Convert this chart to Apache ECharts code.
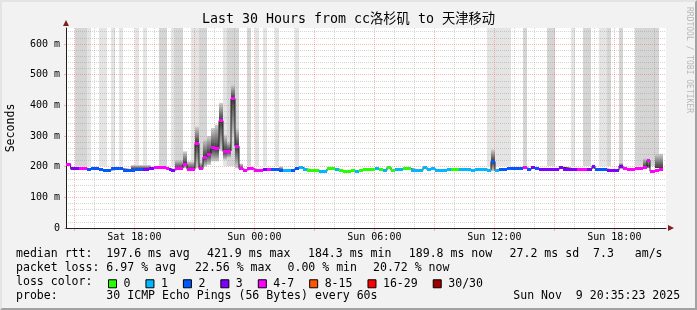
<!DOCTYPE html>
<html><head><meta charset="utf-8">
<script src="https://cdn.jsdelivr.net/npm/echarts@6/dist/echarts.min.js"></script>
<style>html,body{margin:0;padding:0;background:#f2f2f2}#c{width:697px;height:310px}</style>
</head><body><div id="c"></div>
<script>
// x values: minutes since Sat 14:35 (the 30 hour window ends Sun 20:35)
const rttStart = [0,14,39,63,75,99,111,135,171,207,231,249,264,300,309,315,327,351,363,387,399,411,423,435,447,459,471,483,495,507,519,531,543,563,591,603,615,639,651,675,687,699,711,723,759,783,807,819,831,855,867,879,891,927,939,951,963,975,987,1011,1035,1071,1083,1095,1107,1119,1143,1155,1179,1215,1227,1263,1275,1287,1299,1323,1371,1383,1395,1407,1419,1479,1491,1533,1563,1578,1587,1623,1659,1671,1683,1707,1731,1743,1752,1767,1779];
const rttEnd = 1791;
// median rtt in ms
const rttMedian = [208,193,195,192,193,191,189,193,189,190,192,194,198,195,192,189,195,208,191,276,193,231,241,261,258,350,249,251,422,267,193,189,193,188,191,191,192,189,188,188,195,197,192,188,185,193,192,188,185,188,185,189,191,194,191,188,198,188,191,193,188,198,190,193,187,189,191,191,191,187,192,188,217,187,192,194,196,192,198,193,192,198,192,192,192,202,192,188,202,194,190,195,198,220,185,188,192];
// loss class index per segment (0:"0",1:"1",2:"2",3:"3",4:"4-7",...)
const rttLoss = [4,3,4,2,2,2,2,2,2,2,3,3,4,4,3,3,4,4,4,4,4,4,4,4,4,4,4,4,4,4,4,4,4,4,3,4,2,2,1,2,2,1,1,0,1,0,1,0,0,0,1,0,0,1,0,1,0,0,1,0,1,1,1,1,1,1,1,0,1,1,1,1,2,1,2,2,4,2,3,2,3,3,3,4,3,3,2,3,3,4,4,4,4,4,4,4,4];

// smoke (spread of the individual pings) in ms
const smokeStart = [195,327,351,363,387,399,411,423,435,447,459,471,483,495,507,519,639,1275,1578,1659,1731,1767];
const smokeEnd   = [255,351,363,387,399,411,423,435,447,459,471,483,495,507,519,531,651,1287,1587,1671,1752,1791];
const smokeLow   = [192,193,195,191,195,192,200,205,217,217,250,222,228,293,195,193,189,185,192,192,196,195];
const smokeHigh  = [205,222,250,217,331,215,290,300,326,337,408,304,282,467,326,210,200,256,206,212,228,242];

// periods with lost pings (shade 0 = light, 1 = dark)
const lossBandStart = [27,63,99,135,159,207,231,279,315,327,375,399,471,483,543,567,591,627,687,1263,1371,1443,1515,1551,1599,1623,1659,1707];
const lossBandEnd   = [63,75,123,147,171,219,243,303,327,351,399,423,483,519,555,579,603,639,699,1335,1383,1467,1527,1575,1623,1635,1671,1779];
const lossBandShade = [1,0,0,0,0,0,0,1,0,1,0,1,0,1,1,0,0,0,0,0,1,1,0,1,0,1,1,1];

const lossClassNames  = ['0','1','2','3','4-7','8-15','16-29','30/30'];
const lossClassColors = ['#26ff00','#00b8ff','#0059ff','#7e00ff','#ff00ff','#ff5500','#ff0000','#a10000'];

const xTickMinutes = [205,565,925,1285,1645];
const xTickLabels  = ['Sat 18:00','Sun 00:00','Sun 06:00','Sun 12:00','Sun 18:00'];
const yTickValues  = [0,100,200,300,400,500,600];
const yTickLabels  = ['0','100 m','200 m','300 m','400 m','500 m','600 m'];

const statRows = [
  [['median rtt:  197.6 ms avg',16],['421.9 ms max',207],['184.3 ms min',308],['189.8 ms now',408.8],['27.2 ms sd  7.3   am/s',509.6]],
  [['packet loss: 6.97 % avg',16],['22.56 % max',195],['0.00 % min',287.5],['20.72 % now',373]],
  [['loss color:',16]],
  [['probe:       30 ICMP Echo Pings (56 Bytes) every 60s',16],['Sun Nov  9 20:35:23 2025',513.3]]
];
const titleText = 'Last 30 Hours from cc洛杉矶 to 天津移动';

// ---------------------------------------------------------------
const X_MAX = 1800, Y_MAX = 652, BAND_FLOOR = 202;
const MONO = '"DejaVu Sans Mono","Noto Sans CJK SC",monospace';
const xMajor = [], xMinor = [];
for (let m = 25; m < X_MAX; m += 60) { (((m - 25) / 60) % 3 === 0 ? xMajor : xMinor).push(m); }
const yMinor = [];
for (let v = 20; v < Y_MAX; v += 20) { if (v % 100) yMinor.push(v); }

function medianAt(t) {
  let k = 0;
  for (let i = 0; i < rttStart.length; i++) if (rttStart[i] <= t) k = i;
  return rttMedian[k];
}
const segEnd = i => (i + 1 < rttStart.length ? rttStart[i + 1] : rttEnd);

const bandData = lossBandStart.map((s, i) => [s, lossBandEnd[i], BAND_FLOOR, Y_MAX, lossBandShade[i]]);
const smokeData = smokeStart.map((s, i) => [s, smokeEnd[i], smokeLow[i], smokeHigh[i], medianAt(s)]);
const lineData = rttStart.map((t, i) => [t, rttMedian[i]]).concat([[rttEnd, rttMedian[rttMedian.length - 1]]]);

function renderBand(params, api) {
  const p0 = api.coord([api.value(0), api.value(3)]);
  const p1 = api.coord([api.value(1), api.value(2)]);
  return {type: 'rect', shape: {x: p0[0], y: p0[1], width: p1[0] - p0[0], height: p1[1] - p0[1]},
          style: {fill: api.value(4) ? '#d5d5d5' : '#e4e4e4'}};
}
function renderSmoke(params, api) {
  const lo = api.value(2), hi = api.value(3), med = api.value(4);
  const p0 = api.coord([api.value(0), hi]);
  const p1 = api.coord([api.value(1), lo]);
  let t = (hi - med) / (hi - lo); t = Math.max(0, Math.min(1, t));
  return {type: 'rect', shape: {x: p0[0], y: p0[1], width: p1[0] - p0[0], height: p1[1] - p0[1]},
          style: {fill: new echarts.graphic.LinearGradient(0, 0, 0, 1, [
            {offset: 0, color: '#d2d2d2'}, {offset: t, color: '#383838'}, {offset: 1, color: '#d2d2d2'}])}};
}
function renderMed(params, api) {
  const p0 = api.coord([api.value(0), api.value(2)]);
  const p1 = api.coord([api.value(1), api.value(2)]);
  return {type: 'rect', shape: {x: p0[0], y: Math.round(p0[1] - 1.5), width: p1[0] - p0[0], height: 3},
          style: {fill: api.visual('color')}};
}

const medSeries = lossClassNames.map((nm, k) => ({
  type: 'custom', name: nm, z: 6, silent: true,
  itemStyle: {color: lossClassColors[k]},
  renderItem: renderMed,
  encode: {x: [0, 1], y: 2},
  data: rttStart.map((t, i) => [t, segEnd(i), rttMedian[i], rttLoss[i]]).filter(d => d[3] === k)
}));

const majorGrid = 'rgba(240,80,80,0.4)';
const minorGrid = 'rgba(128,128,128,0.33)';
const txt = (x, y, s, extra) => ({type: 'text', x: x, y: y, silent: true,
  style: Object.assign({text: s, fontFamily: MONO, fontSize: 11.55, fill: '#000', align: 'left', verticalAlign: 'middle'}, extra || {})});
const rowY = [254.3, 268.3, 282.3, 295.8];
const graphics = [
  {type: 'polygon', silent: true, shape: {points: [[0,0],[697,0],[695,2],[2,2],[2,308],[0,310]]}, style: {fill: '#e4e4e4'}},
  {type: 'polygon', silent: true, shape: {points: [[697,0],[697,310],[0,310],[2,308],[695,308],[695,2]]}, style: {fill: '#a2a2a2'}},
  txt(11, 128, 'Seconds', {align: 'center'}),
  {type: 'text', x: 689, y: 60, rotation: -Math.PI / 2, silent: true,
   style: {text: 'RRDTOOL / TOBI OETIKER', fontFamily: MONO, fontSize: 8, fill: '#b8b8b8', align: 'center', verticalAlign: 'middle'}}
];
graphics[2].rotation = Math.PI / 2;
statRows.forEach((row, r) => row.forEach(([s, x]) => graphics.push(txt(x, rowY[r], s))));

const chart = echarts.init(document.getElementById('c'), null, {renderer: 'canvas', width: 697, height: 310});
chart.setOption({
  animation: false,
  backgroundColor: '#f2f2f2',
  title: {text: titleText, left: 'center', top: 13, padding: 0,
          textStyle: {fontFamily: MONO, fontSize: 13.3, fontWeight: 'normal', color: '#000', lineHeight: 14}},
  grid: {left: 66, top: 28, width: 600, height: 200, show: true, backgroundColor: '#ffffff', borderWidth: 0},
  legend: {data: lossClassNames, left: 108, top: 278, padding: 0, itemWidth: 8, itemHeight: 8, itemGap: 15,
           icon: 'rect', selectedMode: false, itemStyle: {borderColor: '#000', borderWidth: 1},
           textStyle: {fontFamily: MONO, fontSize: 11.55, color: '#000', padding: [0, 0, 0, 2]}},
  xAxis: [
    {type: 'value', min: 0, max: X_MAX, position: 'bottom', z: 5,
     axisLine: {show: true, onZero: false, lineStyle: {color: '#1f1f1f', width: 1}},
     axisTick: {show: false}, axisLabel: {show: false}, splitLine: {show: false}},
    {type: 'value', min: 0, max: X_MAX, position: 'bottom', z: 3,
     axisLine: {show: false, onZero: false},
     axisTick: {show: true, length: 2, customValues: xMinor, lineStyle: {color: minorGrid}},
     axisLabel: {show: false},
     splitLine: {show: true, lineStyle: {color: minorGrid, type: [1, 1], width: 1}}},
    {type: 'value', min: 0, max: X_MAX, position: 'bottom', z: 3,
     axisLine: {show: true, onZero: false, symbol: ['none', 'triangle'], symbolSize: [6, 6], symbolOffset: [0, 5],
                lineStyle: {color: '#801f1f', opacity: 0}},
     axisTick: {show: true, length: 3, customValues: xMajor, lineStyle: {color: majorGrid}},
     axisLabel: {customValues: xTickMinutes, margin: 4, fontFamily: MONO, fontSize: 10, color: '#000',
                 formatter: v => xTickLabels[xTickMinutes.indexOf(v)] || ''},
     splitLine: {show: true, lineStyle: {color: majorGrid, type: [1, 1], width: 1}}}
  ],
  yAxis: [
    {type: 'value', min: 0, max: Y_MAX, position: 'left', z: 5,
     axisLine: {show: true, onZero: false, lineStyle: {color: '#1f1f1f', width: 1}},
     axisTick: {show: true, length: 2, customValues: yTickValues, lineStyle: {color: majorGrid}},
     axisLabel: {customValues: yTickValues, margin: 6, fontFamily: MONO, fontSize: 10, color: '#000',
                 formatter: v => yTickLabels[yTickValues.indexOf(v)] || ''},
     splitLine: {show: true, lineStyle: {color: majorGrid, type: [1, 1], width: 1}}},
    {type: 'value', min: 0, max: Y_MAX, position: 'left', z: 3,
     axisLine: {show: true, onZero: false, symbol: ['none', 'triangle'], symbolSize: [6, 6], symbolOffset: [0, 5],
                lineStyle: {color: '#801f1f', opacity: 0}},
     axisTick: {show: false, customValues: yMinor}, axisLabel: {show: false},
     splitLine: {show: true, lineStyle: {color: minorGrid, type: [1, 1], width: 1}}}
  ],
  graphic: graphics,
  series: [
    {type: 'custom', name: 'loss', z: 1, silent: true, renderItem: renderBand, encode: {x: [0, 1], y: [2, 3]}, data: bandData},
    {type: 'custom', name: 'smoke', z: 2, silent: true, renderItem: renderSmoke, encode: {x: [0, 1], y: [2, 3]}, data: smokeData},
    {type: 'line', name: 'median', step: 'end', z: 5, silent: true, symbol: 'none',
     lineStyle: {color: '#202020', width: 1}, data: lineData}
  ].concat(medSeries)
});
</script>
</body></html>
